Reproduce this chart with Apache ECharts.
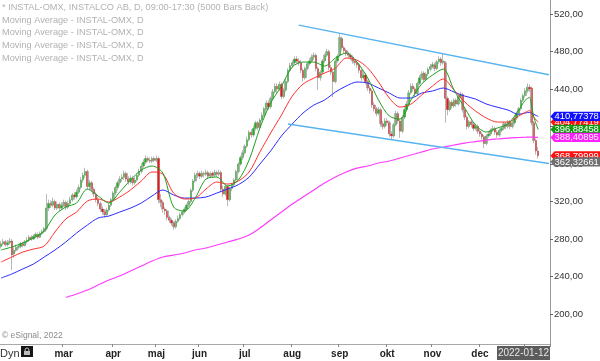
<!DOCTYPE html>
<html>
<head>
<meta charset="utf-8">
<script src="https://cdn.jsdelivr.net/npm/echarts@6.0.0/dist/echarts.min.js"></script>
<style>
html,body{margin:0;padding:0;background:#fff;}
#chart{width:600px;height:361px;}
</style>
</head>
<body>
<div id="chart"></div>
<script>
// ---------- DATA ----------
const holidays = ['2021-04-02','2021-04-05','2021-05-13','2021-06-25','2021-12-24','2021-12-31','2022-01-06'];
const firstDay = [2021, 0, 19];
const lastDay = [2022, 0, 12];
const monthNames = {'03':'mar','04':'apr','05':'maj','06':'jun','07':'jul','08':'aug','09':'sep','10':'okt','11':'nov','12':'dec','01':''};

// [open, close, low, high]
const ohlc = [
[272,275,270,278],[275,277,273,280],[277,274,272,279],[274,276,272,279],[276,278,274,281],
[278,263,247,280],[264,268,260,271],[268,271,266,274],[271,272,269,275],[272,275,270,277],
[275,273,271,277],[273,277,272,279],[277,279,275,282],[279,282,277,284],[282,280,278,284],
[280,283,279,285],[283,285,281,287],[285,282,280,287],[282,286,281,288],[286,288,284,290],
[288,291,286,293],[291,313,289,328],[313,318,310,322],[318,316,313,321],[316,320,314,324],
[320,313,311,322],[313,317,311,320],[317,313,310,319],[313,316,311,319],[316,319,314,322],
[319,314,311,321],[314,318,312,321],[318,322,316,325],[322,327,320,329],[327,325,322,330],
[325,330,323,333],[330,335,328,338],[335,343,333,346],[343,348,340,351],[348,352,345,356],
[352,336,333,354],[336,340,332,343],[340,333,330,342],[333,328,325,335],[328,322,319,330],
[322,318,315,325],[318,312,309,320],[312,309,306,315],[309,306,303,312],[306,311,304,313],
[311,316,309,318],[316,322,314,324],[322,329,320,331],[329,335,327,337],[335,340,332,342],
[340,344,337,347],[344,346,341,349],[346,350,343,353],[350,344,341,352],[344,341,338,347],
[341,345,339,348],[345,340,337,347],[340,343,338,346],[343,348,341,350],[348,352,346,355],
[352,358,350,361],[358,362,356,365],[362,366,360,369],[366,364,362,368],[364,363,361,367],
[363,366,361,368],[366,364,362,368],[364,366,362,369],[366,322,318,368],[322,319,314,328],
[319,312,308,321],[312,310,306,314],[310,303,300,312],[303,300,297,305],[300,297,294,302],
[297,293,290,299],[293,299,291,301],[299,302,297,305],[302,306,300,308],[306,309,304,311],
[309,312,307,314],[312,316,310,318],[316,320,314,322],[320,332,318,334],[332,342,330,344],
[342,348,340,351],[348,350,345,353],[350,347,344,352],[347,350,345,353],[350,349,346,352],
[349,351,347,354],[351,347,344,353],[347,350,345,352],[350,348,345,352],[348,351,346,354],
[351,349,346,353],[349,351,347,354],[351,333,330,353],[333,328,325,337],[328,336,326,338],
[336,322,315,338],[322,334,320,336],[334,338,331,340],[338,343,336,345],[343,352,341,354],
[352,360,350,362],[360,367,358,369],[367,372,364,375],[372,379,370,381],[379,386,377,389],
[386,394,384,396],[394,391,388,397],[391,398,389,401],[398,404,396,406],[404,399,396,406],
[399,407,397,409],[407,412,405,415],[412,419,410,421],[419,425,417,428],[425,421,418,428],
[421,430,419,432],[430,437,428,440],[437,443,435,446],[443,440,436,446],[440,445,438,448],
[445,432,429,447],[432,439,430,441],[439,448,437,451],[448,460,446,462],[460,465,458,468],
[465,468,463,471],[468,472,466,475],[472,470,467,475],[470,468,465,473],[468,460,457,471],
[460,452,448,462],[452,462,450,464],[462,467,460,469],[467,470,465,473],[470,474,468,477],
[474,476,471,479],[476,462,459,478],[462,452,439,464],[452,458,449,460],[458,470,456,472],
[470,476,468,478],[476,480,474,483],[480,463,460,482],[463,458,455,466],[458,448,431,460],
[448,470,446,472],[470,475,468,477],[476,495,474,499],[494,484,481,496],[484,481,478,486],
[481,478,475,483],[478,476,473,480],[476,474,471,478],[474,470,467,476],[470,468,465,472],
[468,466,463,470],[466,460,457,468],[460,452,449,462],[452,455,450,458],[455,448,445,457],
[448,441,438,450],[441,438,435,443],[438,423,420,440],[423,419,416,426],[419,414,411,421],
[414,418,412,421],[418,403,400,420],[403,400,397,406],[400,406,398,409],[406,404,401,409],
[404,392,389,406],[392,390,386,395],[390,402,388,404],[402,414,400,417],[414,406,403,416],
[406,395,388,408],[395,410,393,412],[410,418,408,421],[418,424,416,427],[424,436,422,439],
[436,443,434,446],[443,440,437,446],[440,435,432,442],[435,446,433,448],[446,452,444,455],
[452,456,450,459],[457,450,447,459],[450,456,448,458],[456,461,454,463],[461,464,459,467],
[464,466,462,469],[466,462,459,468],[462,469,460,471],[469,472,467,475],[472,468,465,474],
[468,470,466,478],[468,430,404,470],[430,418,412,432],[418,426,416,428],[426,422,419,428],
[422,428,420,430],[428,424,421,430],[424,432,422,434],[432,434,430,437],[434,418,415,436],
[418,410,407,420],[410,400,397,412],[400,405,398,407],[405,402,399,407],[402,398,395,404],
[398,400,396,403],[400,395,392,402],[395,392,389,397],[392,389,386,394],[389,382,377,391],
[382,390,380,392],[390,392,388,395],[392,396,390,398],[396,398,394,401],[398,394,391,400],
[394,391,388,396],[391,396,389,398],[396,398,394,400],[398,403,396,405],[403,400,397,405],
[400,405,398,407],[405,400,397,407],[400,404,398,406],[404,409,402,411],[409,414,407,416],
[414,419,412,421],[419,428,417,430],[428,433,426,435],[433,438,431,441],[438,442,436,446],
[442,440,437,445],[441,404,401,443],[404,385,382,406],[385,374,370,387],[374,368.79999,366,378]
];

// moving average readings (sampled bar indices)
const maIdx = [0,5,10,15,20,25,30,35,40,45,50,55,60,65,70,75,80,85,90,95,100,105,110,115,120,125,130,135,140,145,150,155,160,165,170,175,180,185,190,195,200,205,210,215,220,225,230,235,240,243,245,246,247,249];
const maGreen = [268.3,271.5,275.7,281.1,288.5,305.6,314.1,318.4,333.3,325.9,318.4,330.1,342.9,353.6,357.9,350.4,314.1,309.8,323.7,344,346.1,336.5,342.9,364.3,398.4,425.1,443.2,463.5,468.8,468.8,464.5,473.1,478.4,468.8,451.7,428.3,411.2,408,428.3,445.3,454.9,461.3,438.9,419.7,401.6,394.1,398.4,402.7,417.6,428,431,422,410,396.88458];
const maRed = [255.5,260.8,266.1,269.3,272.5,287.5,301.3,308.8,320.5,322.7,319.4,324.8,332.3,341.9,351.5,349.3,329,322.7,323.7,333.3,340.8,338.6,341.9,351.5,372.8,393.1,412.3,432.5,445.3,451.7,457.1,462.4,473.1,470.9,462.4,447.5,430.4,420.8,423.9,433.6,443.2,450.7,438.9,426.1,416.5,409.1,404.8,404.8,411.2,415,417,414,410,404.77419];
const maBlue = [238.4,242.7,248,253.3,260.8,268.3,276.8,286.4,294.9,302.4,304.5,308.8,313,318.4,325.9,332.3,327,323.7,323.7,324.8,329,333.3,338,346,360,374,390,402.7,414.4,422.9,428.3,436.8,443.2,447.5,446.4,441.1,435.7,430.4,430.4,435.7,437.9,441.1,436.8,432.5,429.3,424,420.7,417.6,413,414.5,415,414,413,410.77378];
const maMagenta = [null,null,null,null,null,null,217.6,221.3,225.6,230.9,236.3,240.5,245.9,251.2,256.5,260.8,262.9,265.1,268.3,270.4,273.6,276.8,280,284.3,291.7,300.3,308.8,317.3,324.8,332.3,339.7,346.1,351.5,355.7,357.9,361.1,363.2,366.4,369.6,372.8,376,378.1,380.3,382.4,384,385.6,386.7,387.7,388.3,388.6,388.8,388.7,388.6,388.40895];

// trend channel lines [barIndex, value]
const upperTrend = [[138, 508.2], [254, 455.2]];
const lowerTrend = [[133, 402.7], [254, 360.5]];

// right side price tags
const tagValues = [404.77419, 396.88458, 388.40895, 410.77378, 368.79999, 362.32661];
const tagColors = ['#ff1010', '#109a10', '#ff20ff', '#1010ff', '#ff1010', '#6e6e6e'];

const yTicks = [200, 240, 280, 320, 360, 400, 440, 480, 520];

const legendLines = [
  '* INSTAL-OMX, INSTALCO AB, D, 09:00-17:30 (5000 Bars Back)',
  'Moving Average - INSTAL-OMX, D',
  'Moving Average - INSTAL-OMX, D',
  'Moving Average - INSTAL-OMX, D',
  'Moving Average - INSTAL-OMX, D'
];
const lastDateLabel = '2022-01-12';

// ---------- BUILD ----------
function tradingDays() {
  const out = [];
  let t = Date.UTC(firstDay[0], firstDay[1], firstDay[2]);
  const end = Date.UTC(lastDay[0], lastDay[1], lastDay[2]);
  while (t <= end) {
    const d = new Date(t);
    const wd = d.getUTCDay();
    const s = d.toISOString().slice(0, 10);
    if (wd !== 0 && wd !== 6 && holidays.indexOf(s) < 0) out.push(s);
    t += 86400000;
  }
  return out;
}
const dates = tradingDays();
const pad = [' 1', ' 2', ' 3', ' 4', ' 5'];
const cats = dates.concat(pad);
const monthStart = cats.map((d, i) => {
  if (i === 0 || i >= dates.length) return false;
  const m = d.slice(5, 7);
  return m !== dates[i - 1].slice(5, 7) && (m in monthNames);
});

const bodies = ohlc.map(d => [d[0], d[1], Math.min(d[0], d[1]), Math.max(d[0], d[1])]);
const pairs = arr => maIdx.map((ix, k) => arr[k] == null ? null : [ix, arr[k]]).filter(p => p);

const FONT = 'Liberation Sans, Arial, sans-serif';
const chart = echarts.init(document.getElementById('chart'), null, {renderer: 'canvas'});

function lineS(data, color, width, smooth) {
  return {
    type: 'line', data: data, showSymbol: false, symbol: 'none', smooth: smooth,
    lineStyle: {color: color, width: width}, silent: true, animation: false,
    emphasis: {disabled: true}
  };
}

const option = {
  animation: false,
  backgroundColor: '#ffffff',
  grid: {left: 0, right: 50, top: 0, bottom: 17, containLabel: false},
  xAxis: {
    type: 'category', data: cats, boundaryGap: true,
    axisLine: {show: true, lineStyle: {color: '#a8a8a8', width: 1}},
    axisTick: {show: true, length: 3, interval: (i) => monthStart[i], lineStyle: {color: '#888'}},
    axisLabel: {
      show: true, interval: (i) => monthStart[i], margin: 5,
      formatter: (v) => monthNames[v.slice(5, 7)] || '',
      fontFamily: FONT, fontSize: 10, fontWeight: 'bold', color: '#222'
    },
    splitLine: {show: false}
  },
  yAxis: {
    type: 'value', position: 'right', min: 168, max: 535, scale: true,
    axisLine: {show: true, lineStyle: {color: '#9a9a9a', width: 1}},
    axisTick: {show: true, length: 3, customValues: yTicks, lineStyle: {color: '#666'}},
    axisLabel: {
      show: true, customValues: yTicks, margin: 4,
      formatter: (v) => v.toFixed(2).replace('.', ','),
      fontFamily: FONT, fontSize: 9.5, color: '#333'
    },
    splitLine: {show: false}
  },
  series: [
    {
      type: 'candlestick', data: ohlc, barWidth: 2.2, silent: true,
      itemStyle: {color: '#c4c4c4', color0: '#c4c4c4', borderColor: '#a6a6a6', borderColor0: '#a6a6a6', borderWidth: 0.8}
    },
    {
      type: 'candlestick', data: bodies, barWidth: 1.7, silent: true,
      itemStyle: {color: '#22b022', color0: '#e01a1a', borderColor: '#22b022', borderColor0: '#e01a1a', borderWidth: 0}
    },
    lineS(pairs(maMagenta), '#ff3cff', 1.2, 0.3),
    lineS(pairs(maBlue), '#2b2bff', 1, 0.3),
    lineS(pairs(maRed), '#ff3030', 1, 0.3),
    lineS(pairs(maGreen), '#1f9f1f', 1, 0.3),
    lineS(upperTrend, '#58b4f0', 1.4, false),
    lineS(lowerTrend, '#58b4f0', 1.4, false)
  ]
};
chart.setOption(option);

// ---------- GRAPHICS (text and tags) ----------
const g = [];
legendLines.forEach((t, i) => {
  g.push({type: 'text', x: 2, y: 7.5 + i * 12.7, silent: true,
    style: {text: t, fill: '#b2b2b2', font: '9.2px ' + FONT, textVerticalAlign: 'middle', textAlign: 'left'}});
});
g.push({type: 'text', x: 2, y: 336, silent: true,
  style: {text: '© eSignal, 2022', fill: '#8a8a8a', font: '8.5px ' + FONT, textVerticalAlign: 'middle'}});
g.push({type: 'text', x: 0, y: 353.5, silent: true,
  style: {text: 'Dyn', fill: '#333', font: '11px ' + FONT, textVerticalAlign: 'middle'}});
g.push({type: 'rect', silent: true, shape: {x: 21, y: 346, width: 12, height: 11}, style: {fill: '#161616'}});
g.push({type: 'circle', silent: true, shape: {cx: 27, cy: 350, r: 2}, style: {fill: 'none', stroke: '#bbb', lineWidth: 1}});
g.push({type: 'rect', silent: true, shape: {x: 24, y: 351, width: 6, height: 4}, style: {fill: '#bbb'}});
g.push({type: 'rect', silent: true, shape: {x: 497, y: 346, width: 53, height: 14}, style: {fill: '#5c5c5c'}});
g.push({type: 'text', x: 523.5, y: 353.5, silent: true,
  style: {text: lastDateLabel, fill: '#e6e6e6', font: '10px ' + FONT, textAlign: 'center', textVerticalAlign: 'middle'}});

const axisX = 600 - 50;
tagValues.forEach((v, i) => {
  const y = chart.convertToPixel({yAxisIndex: 0}, v);
  g.push({type: 'polygon', silent: true, z: 100 + i,
    shape: {points: [[axisX + 0.5, y], [axisX + 4.5, y - 4.6], [600, y - 4.6], [600, y + 4.6], [axisX + 4.5, y + 4.6]]},
    style: {fill: tagColors[i]}});
  g.push({type: 'text', silent: true, z: 100 + i, x: axisX + 4.5, y: y + 0.3,
    style: {text: v.toFixed(5).replace('.', ','), fill: '#ffffff', font: '9.4px ' + FONT, textVerticalAlign: 'middle'}});
});
chart.setOption({graphic: g});
</script>
</body>
</html>
